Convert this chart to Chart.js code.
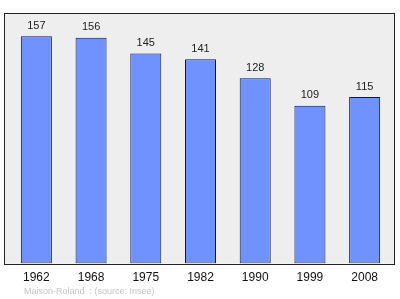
<!DOCTYPE html>
<html>
<head>
<meta charset="utf-8">
<script src="https://cdn.jsdelivr.net/npm/chart.js@4"></script>
<style>
  html, body { margin: 0; padding: 0; background: #fff; }
  #wrap { width: 400px; height: 299px; }
</style>
</head>
<body>
<div id="wrap"><canvas id="popChart" width="400" height="299"></canvas></div>
<script>
    // data
    const years = ['1962', '1968', '1975', '1982', '1990', '1999', '2008'];
    const population = [157, 156, 145, 141, 128, 109, 115];
    const sourceNote = 'Maison-Roland  : (source: Insee)';

    // frame sits a little wider than the bar area
    const frameLeft = 4, frameRight = 394;

    // grey plot background with a dark frame
    const frameBox = {
        id: 'frameBox',
        beforeDraw(chart) {
            const { ctx, chartArea: a } = chart;
            ctx.save();
            ctx.fillStyle = '#eeeeee';
            ctx.fillRect(frameLeft, a.top, frameRight - frameLeft, a.bottom - a.top);
            ctx.restore();
        },
        afterDraw(chart) {
            const { ctx, chartArea: a } = chart;
            ctx.save();
            ctx.strokeStyle = '#222';
            ctx.lineWidth = 1;
            ctx.strokeRect(frameLeft + 0.5, Math.round(a.top) + 0.5,
                frameRight - frameLeft, Math.round(a.bottom - a.top));
            // source line under the axis
            ctx.fillStyle = '#c4c4c4';
            ctx.font = '9px "Liberation Sans", Arial, sans-serif';
            ctx.textBaseline = 'middle';
            ctx.fillText(sourceNote, 24, 292);
            ctx.restore();
        }
    };

    // value above every bar
    const valueLabels = {
        id: 'valueLabels',
        afterDatasetsDraw(chart) {
            const { ctx } = chart;
            const meta = chart.getDatasetMeta(0);
            ctx.save();
            ctx.fillStyle = '#222';
            ctx.font = '11px "Liberation Sans", Arial, sans-serif';
            ctx.textAlign = 'center';
            ctx.textBaseline = 'bottom';
            meta.data.forEach((bar, i) => {
                ctx.fillText(chart.data.datasets[0].data[i], bar.x, bar.y - 5);
            });
            ctx.restore();
        }
    };

    new Chart(document.getElementById('popChart').getContext('2d'), {
        type: 'bar',
        data: {
            labels: years,
            datasets: [{
                data: population,
                backgroundColor: '#7092ff',
                borderColor: '#10183a',
                borderWidth: 1,
                borderSkipped: false,
                categoryPercentage: 1,
                barPercentage: 0.567
            }]
        },
        options: {
            responsive: false,
            animation: false,
            layout: { padding: { left: 9, right: 8, top: 13, bottom: 7 } },
            scales: {
                x: {
                    grid: { display: false, drawTicks: false },
                    border: { display: false },
                    ticks: {
                        padding: 7,
                        color: '#111',
                        font: { family: '"Liberation Sans", Arial, sans-serif', size: 12 }
                    }
                },
                y: {
                    display: false,
                    min: 0,
                    max: 173
                }
            },
            plugins: {
                legend: { display: false },
                tooltip: { enabled: false }
            }
        },
        plugins: [frameBox, valueLabels]
    });
</script>
</body>
</html>
